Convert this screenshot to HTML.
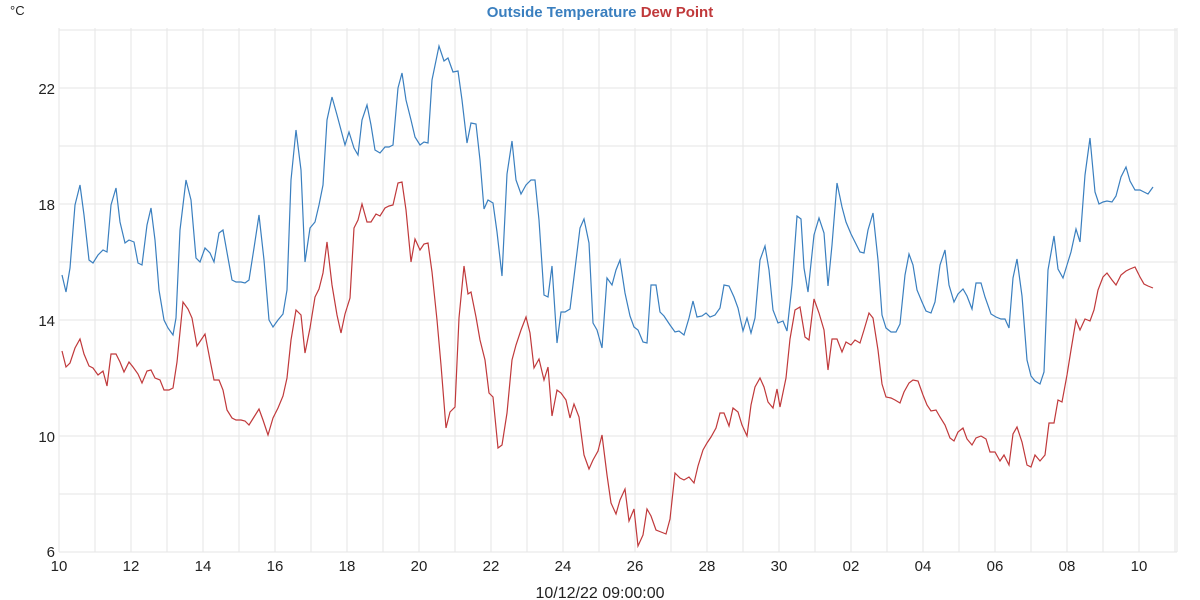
<!DOCTYPE html>
<html><head><meta charset="utf-8"><style>
html,body{margin:0;padding:0;background:#fff;}
svg{display:block;font-family:"Liberation Sans",sans-serif;}
</style></head><body>
<svg width="1200" height="600" xmlns="http://www.w3.org/2000/svg">
<g id="grid" stroke="#e6e6e6" stroke-width="1"></g>
<text x="10" y="15" font-size="13" fill="#222">°C</text>
<text x="600" y="17" font-size="15" font-weight="bold" text-anchor="middle"><tspan fill="#3a7fbf">Outside Temperature</tspan> <tspan fill="#c0393b">Dew Point</tspan></text>
<g id="ylab" font-size="15" fill="#222" text-anchor="end"></g>
<g id="xlab" font-size="15" fill="#222" text-anchor="middle"></g>
<text x="600" y="598" font-size="16" fill="#222" text-anchor="middle">10/12/22 09:00:00</text>
<polyline fill="none" stroke="#3a7fbf" stroke-width="1.2" points="62,275 66,292 70,268 75,205 80,185 84,215 89,260 93,263 98,255 103,250 107,252 111,205 116,188 120,222 125,243 129,240 134,242 138,263 142,265 147,225 151,208 155,240 159,290 164,320 168,328 173,335 176,318 180,230 186,180 191,200 196,258 200,262 205,248 210,253 214,262 219,233 223,230 228,258 232,280 236,282 241,282 245,283 249,280 254,248 259,215 264,260 269,320 273,327 278,320 283,314 287,290 291,180 296,130 301,170 305,262 310,228 315,222 319,205 323,185 327,120 332,97 337,115 341,130 345,145 349,132 354,148 358,155 362,120 367,105 371,125 375,150 380,153 385,147 389,147 393,145 398,88 402,73 406,100 411,120 415,137 420,145 424,142 428,143 432,80 439,46 444,61 448,58 453,72 458,71 462,100 467,143 471,123 476,124 480,160 484,209 488,200 493,203 497,232 502,276 507,174 512,141 516,180 521,194 526,185 531,180 535,180 539,220 544,295 548,297 552,266 557,343 561,312 565,312 570,309 574,277 580,228 584,219 589,243 593,323 597,330 602,348 607,278 612,285 616,270 620,260 625,293 630,316 634,327 638,330 643,342 647,343 651,285 656,285 660,312 664,316 670,325 675,332 679,331 684,335 689,318 693,301 697,317 702,316 706,313 710,317 715,315 720,308 724,285 729,286 734,297 738,308 743,331 747,318 751,333 755,318 760,260 765,246 769,270 773,310 778,323 783,321 787,331 792,285 797,216 801,219 804,268 808,292 814,235 819,218 824,233 828,286 832,245 837,183 842,207 846,222 851,234 855,242 860,252 864,253 868,230 873,213 878,260 882,315 886,328 891,332 896,332 900,324 905,275 909,254 913,265 917,290 922,302 926,311 931,313 935,302 940,265 945,250 949,285 954,302 958,294 963,289 967,296 972,309 976,283 981,283 985,297 991,314 996,317 1001,319 1005,319 1009,328 1013,278 1017,259 1022,296 1027,360 1031,376 1035,381 1040,384 1044,372 1048,270 1054,236 1058,269 1063,278 1067,265 1071,252 1076,229 1080,242 1085,175 1090,138 1095,192 1099,204 1103,202 1107,201 1112,202 1116,196 1121,177 1126,167 1130,181 1135,190 1140,190 1144,192 1148,194 1153,187"/>
<polyline fill="none" stroke="#c0393b" stroke-width="1.2" points="62,351 66,367 70,363 75,348 80,339 84,354 89,366 93,368 98,375 103,371 107,386 111,354 116,354 120,362 124,372 129,362 133,367 138,374 142,383 147,371 151,370 155,378 160,380 164,390 169,390 173,388 177,362 183,302 188,309 192,318 197,346 201,340 205,334 210,360 214,380 219,380 223,390 227,410 232,418 236,420 241,420 245,421 249,425 254,417 259,409 263,420 268,435 273,418 278,408 283,396 287,378 291,340 296,310 301,315 305,353 310,328 315,297 319,289 323,273 327,242 332,285 337,315 341,333 345,314 350,298 354,228 358,220 362,204 367,222 371,222 376,214 380,216 385,208 389,206 393,205 398,183 402,182 406,210 411,262 415,239 420,250 424,244 428,243 432,272 437,320 441,365 446,428 450,412 455,407 459,318 464,266 468,294 471,292 476,317 480,340 485,360 489,393 493,397 498,448 502,445 507,413 512,360 516,345 521,330 526,317 530,333 534,368 539,359 544,380 548,367 552,416 557,390 561,393 566,400 570,418 574,404 579,417 584,455 589,469 593,460 598,451 602,435 607,475 611,503 616,514 620,500 625,489 629,521 634,509 638,546 643,535 647,509 651,516 656,530 661,532 666,534 670,519 675,473 680,478 684,480 689,477 694,483 698,466 703,450 707,443 711,437 716,428 720,413 724,413 729,426 733,408 738,412 742,425 747,436 751,405 755,387 760,378 764,387 768,402 773,408 777,389 780,407 786,378 790,339 795,310 800,307 805,337 809,340 814,299 819,313 824,330 828,370 832,339 837,339 842,352 846,342 851,345 855,340 860,343 864,330 869,313 873,318 878,350 882,384 886,397 891,398 895,400 900,403 904,392 909,383 913,380 918,381 923,395 927,405 931,411 936,410 940,417 945,425 950,438 954,441 958,432 963,428 967,439 972,445 976,438 981,436 986,439 990,452 995,452 1000,461 1004,455 1009,465 1013,434 1017,427 1022,442 1027,465 1031,467 1035,455 1040,461 1045,455 1049,423 1054,423 1058,400 1062,402 1067,375 1071,350 1076,320 1080,330 1085,319 1090,321 1094,310 1098,290 1103,277 1107,273 1112,280 1116,285 1121,275 1126,271 1130,269 1135,267 1140,277 1144,284 1148,286 1153,288"/>
<script>
var ns="http://www.w3.org/2000/svg",g=document.getElementById('grid');
function ln(x1,y1,x2,y2){var l=document.createElementNS(ns,'line');l.setAttribute('x1',x1);l.setAttribute('y1',y1);l.setAttribute('x2',x2);l.setAttribute('y2',y2);g.appendChild(l);}
for(var t=6;t<=24;t+=2){var y=552-(t-6)*29;ln(59,y,1177,y);}
for(var d=0;d<=31;d++){var x=59+d*36;if(x<=1177)ln(x,28,x,552);}
ln(1177,28,1177,552);
var yl=document.getElementById('ylab');
[6,10,14,18,22].forEach(function(t){var e=document.createElementNS(ns,'text');e.setAttribute('x',55);e.setAttribute('y',552-(t-6)*29+(t==6?5:6));e.textContent=t;yl.appendChild(e);});
var xl=document.getElementById('xlab');
var labs=['10','12','14','16','18','20','22','24','26','28','30','02','04','06','08','10'];
labs.forEach(function(s,i){var e=document.createElementNS(ns,'text');e.setAttribute('x',59+i*72);e.setAttribute('y',571);e.textContent=s;xl.appendChild(e);});
</script>
</svg>
</body></html>
